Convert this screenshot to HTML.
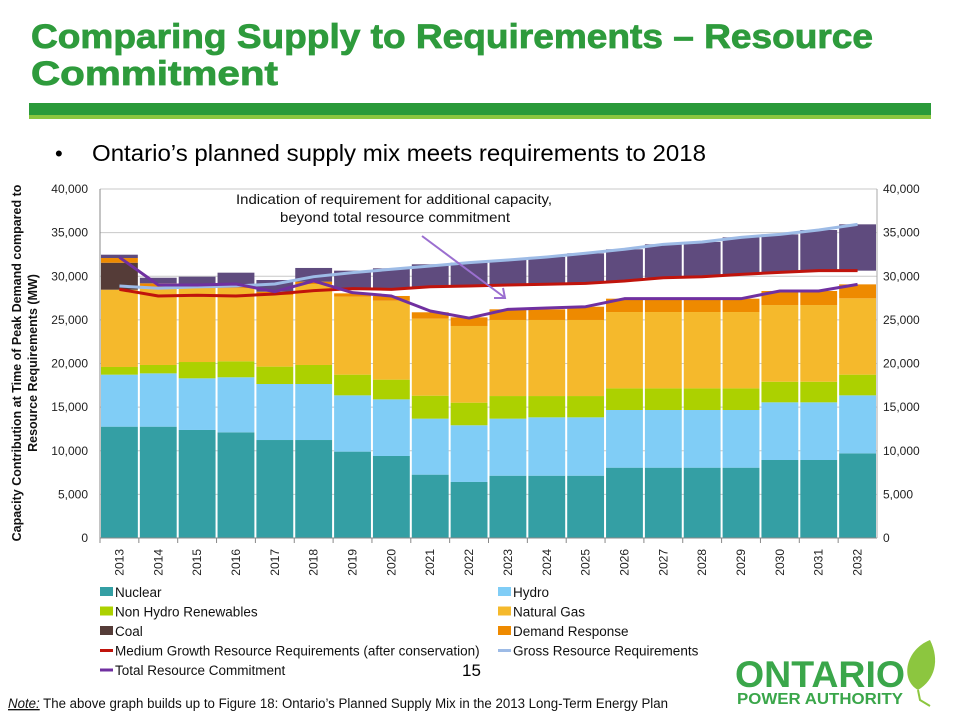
<!DOCTYPE html>
<html><head><meta charset="utf-8"><style>
body{margin:0;background:#fff}
svg{display:block;font-family:"Liberation Sans",sans-serif}
.tk{font-size:12px;fill:#222}
.lg{font-size:13.5px;fill:#111}
</style></head><body>
<svg id="c" width="953" height="714" viewBox="0 0 953 714" xmlns="http://www.w3.org/2000/svg">
<text x="31" y="48" font-size="34" font-weight="bold" fill="#2e9b3c" textLength="842" lengthAdjust="spacingAndGlyphs" stroke="#2e9b3c" stroke-width="0.8">Comparing Supply to Requirements – Resource</text>
<text x="31" y="85" font-size="34" font-weight="bold" fill="#2e9b3c" textLength="247" lengthAdjust="spacingAndGlyphs" stroke="#2e9b3c" stroke-width="0.8">Commitment</text>
<rect x="29" y="103" width="902" height="12" fill="#2a9a3a"/>
<rect x="29" y="115" width="902" height="4" fill="#8cc63f"/>
<text x="55" y="161" font-size="22" fill="#000">•</text>
<text x="92" y="161" font-size="23" fill="#000" textLength="614" lengthAdjust="spacingAndGlyphs">Ontario’s planned supply mix meets requirements to 2018</text>
<g id="plot"></g>
<text x="236" y="204" font-size="14" fill="#111" textLength="316" lengthAdjust="spacingAndGlyphs">Indication of requirement for additional capacity,</text>
<text x="280" y="222" font-size="14" fill="#111" textLength="230" lengthAdjust="spacingAndGlyphs">beyond total resource commitment</text>
<g stroke="#9b6fd0" stroke-width="2" fill="none">
<line x1="422" y1="236" x2="504" y2="297"/><polyline points="494,298 505,298 503,288"/></g>
<text transform="translate(21,363) rotate(-90)" text-anchor="middle" font-size="12.5" font-weight="bold" fill="#111">Capacity Contribution at Time of Peak Demand compared to</text>
<text transform="translate(37,363) rotate(-90)" text-anchor="middle" font-size="12.5" font-weight="bold" fill="#111">Resource Requirements (MW)</text>
<g id="legend"></g>
<text x="462" y="676" font-size="17" fill="#000">15</text>
<text x="8" y="708" font-size="13.5" fill="#111" textLength="660" lengthAdjust="spacingAndGlyphs"><tspan font-style="italic" text-decoration="underline">Note:</tspan> The above graph builds up to Figure 18: Ontario’s Planned Supply Mix in the 2013 Long-Term Energy Plan</text>
<g>
<text x="735" y="687" font-size="37" font-weight="bold" fill="#3aa64a" textLength="170" lengthAdjust="spacingAndGlyphs">ONTARIO</text>
<text x="737" y="704" font-size="15.5" font-weight="bold" fill="#3aa64a" textLength="166" lengthAdjust="spacingAndGlyphs">POWER AUTHORITY</text>
<path d="M930,640 C905,650 900,680 918,690 C935,680 940,660 930,640 Z" fill="#8cc63f"/>
<path d="M918,690 L920,700 L930,706" stroke="#8cc63f" stroke-width="2" fill="none"/>
</g>
</svg>
<script>
const years=["2013","2014","2015","2016","2017","2018","2019","2020","2021","2022","2023","2024","2025","2026","2027","2028","2029","2030","2031","2032"];
const nuclear=[12760,12760,12380,12110,11230,11230,9900,9400,7260,6420,7140,7140,7140,8060,8060,8060,8060,8940,8940,9700];
const hydro=[5960,6110,5920,6310,6420,6420,6450,6490,6420,6500,6540,6690,6690,6610,6610,6610,6610,6610,6610,6650];
const nonHydroRenewables=[880,960,1870,1830,1990,2180,2370,2260,2630,2590,2590,2440,2440,2480,2480,2480,2480,2360,2360,2370];
const naturalGas=[8860,8790,8450,8370,8210,9280,8940,9050,8830,8790,8720,8720,8720,8750,8750,8750,8750,8790,8790,8750];
const coal=[3090,0,0,0,0,0,0,0,0,0,0,0,0,0,0,0,0,0,0,0];
const demandResponse=[540,570,260,180,380,270,380,540,730,990,1220,1220,1520,1530,1530,1530,1530,1610,1610,1600];
const additionalRequirementTop=[32470,29830,29950,30410,29570,30950,30640,30910,31370,31560,31860,32210,32630,33090,33660,33930,34460,34800,35300,35950];
const mediumGrowth=[28500,27740,27820,27740,27970,28350,28580,28500,28800,28880,29000,29080,29190,29460,29830,29940,30220,30450,30640,30640];
const grossRequirements=[28880,28620,28780,28880,29110,29950,30410,30800,31180,31560,31860,32210,32630,33090,33660,33930,34460,34800,35300,35950];
const totalCommitment=[32170,29000,29000,29110,28230,29460,28120,27740,26020,25210,26210,26360,26510,27430,27430,27430,27430,28310,28310,29070];
const yTicks=[0,5000,10000,15000,20000,25000,30000,35000,40000];
const yTickLabels=["0","5,000","10,000","15,000","20,000","25,000","30,000","35,000","40,000"];

const NS="http://www.w3.org/2000/svg";
const X0=100,X1=877,Y0=538,Y1=189,YMAX=40000;
const bw=(X1-X0)/years.length;
const y=v=>Y0-(v/YMAX)*(Y0-Y1);
const xl=i=>X0+i*bw;
const xc=i=>X0+(i+0.5)*bw;
function mk(tag,at,parent){const e=document.createElementNS(NS,tag);for(const k in at)e.setAttribute(k,at[k]);parent.appendChild(e);return e;}
const plot=document.getElementById('plot');
const g=mk('g',{},plot);


yTicks.forEach((t,i)=>{
  const l=mk('line',{x1:X0,x2:X1,y1:y(t),y2:y(t),stroke:'#c8c8c8','stroke-width':1},g);
  
  
  const a=mk('text',{x:X0-12,y:y(t)+4,'text-anchor':'end',class:'tk'},g);a.textContent=yTickLabels[i];
  
  
  const b=mk('text',{x:X1+6,y:y(t)+4,class:'tk'},g);b.textContent=yTickLabels[i];
  
  
});
const series=[[nuclear,'#349fa4','nuclear'],[hydro,'#80cdf6','hydro'],[nonHydroRenewables,'#acd100','non-hydro-renewables'],[naturalGas,'#f5b92c','natural-gas'],[coal,'#553c38','coal'],[demandResponse,'#ee8a00','demand-response']];
years.forEach((yr,i)=>{
  let acc=0;
  series.forEach(([arr,col,nm])=>{
    if(arr[i]<=0)return;
    const r=mk('rect',{x:xl(i)+1,width:bw-2,y:y(acc+arr[i]),height:y(acc)-y(acc+arr[i]),fill:col},g);
    
    
    acc+=arr[i];
  });
  const base=Math.max(acc,mediumGrowth[i]);
  const top=additionalRequirementTop[i];
  if(top>base){
    const r=mk('rect',{x:xl(i)+1,width:bw-2,y:y(top),height:y(base)-y(top),fill:'#5f4b7e'},g);
    
    
  }
  const tl=mk('text',{transform:`translate(${xc(i)+4},549) rotate(-90)`,'text-anchor':'end',class:'tk'},g);
  tl.textContent=yr;
  
  
  const tk=mk('line',{x1:xl(i),x2:xl(i),y1:Y0,y2:Y0+5,stroke:'#888'},g);
  
  
});
const ax=mk('line',{x1:X0,x2:X1,y1:Y0,y2:Y0,stroke:'#888'},g);


const ay=mk('line',{x1:X0,x2:X0,y1:Y1,y2:Y0,stroke:'#888'},g);


const ay2=mk('line',{x1:X1,x2:X1,y1:Y1,y2:Y0,stroke:'#aaa'},g);


function line(arr,col,nm){
  const p=mk('polyline',{points:arr.map((v,i)=>xc(i)+','+y(v)).join(' '),fill:'none',stroke:col,'stroke-width':3,'stroke-linejoin':'round'},g);
  
  
}
line(mediumGrowth,'#c0140c','line-medium-growth-requirements');
line(grossRequirements,'#9dbbe6','line-gross-requirements');
line(totalCommitment,'#7030a0','line-total-resource-commitment');

const lg=document.getElementById('legend');
const items=[['Nuclear','#349fa4',0,0,'r'],['Hydro','#80cdf6',1,0,'r'],['Non Hydro Renewables','#acd100',0,1,'r'],['Natural Gas','#f5b92c',1,1,'r'],['Coal','#553c38',0,2,'r'],['Demand Response','#ee8a00',1,2,'r'],['Medium Growth Resource Requirements (after conservation)','#c0140c',0,3,'l'],['Gross Resource Requirements','#9dbbe6',1,3,'l'],['Total Resource Commitment','#7030a0',0,4,'l']];
items.forEach(([t,c,col,row,k])=>{
  const e=mk('g',{},lg);
  
  
  const sx=col?498:100, cy=592+row*19.5;
  if(k==='r')mk('rect',{x:sx,y:cy-5,width:13,height:9,fill:c},e);
  else mk('line',{x1:sx,x2:sx+13,y1:cy,y2:cy,stroke:c,'stroke-width':3},e);
  const tx=mk('text',{x:sx+15,y:cy+5,class:'lg'},e);tx.textContent=t;
});
</script>
</body></html>
